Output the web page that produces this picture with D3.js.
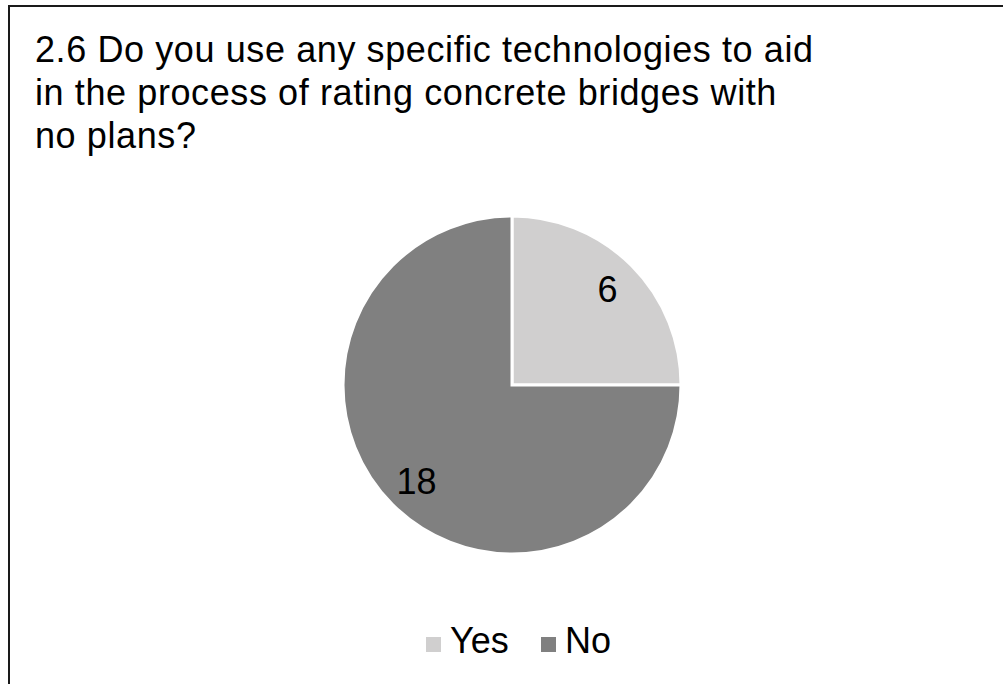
<!DOCTYPE html>
<html>
<head>
<meta charset="utf-8">
<script src="https://cdn.jsdelivr.net/npm/d3@7"></script>
<style>
  html, body { margin: 0; padding: 0; background: #fff; }
  svg { display: block; }
</style>
</head>
<body>
<svg id="chart" width="1003" height="684"></svg>
<script>
// Survey responses
const categories = ["Yes", "No"];
const counts = [6, 18];
const colors = ["#d0cfcf", "#808080"];
const titleLines = [
  "2.6 Do you use any specific technologies to aid",
  "in the process of rating concrete bridges with",
  "no plans?"
];

const svg = d3.select("#chart");
const font = "Arial, 'Liberation Sans', sans-serif";

// Chart frame (extends past the right and bottom edges)
svg.append("rect")
  .attr("x", 9).attr("y", 6)
  .attr("width", 1010).attr("height", 700)
  .attr("fill", "#fff")
  .attr("stroke", "#1a1a1a")
  .attr("stroke-width", 2);

// Title
svg.append("g").selectAll("text")
  .data(titleLines)
  .join("text")
  .attr("x", 35)
  .attr("y", (d, i) => 62 + i * 43)
  .attr("font-family", font)
  .attr("font-size", 36)
  .attr("letter-spacing", 0.6)
  .attr("fill", "#000")
  .text(d => d);

// Pie
const cx = 512, cy = 385, radius = 169;
const pie = d3.pie().sort(null).value(d => d.value);
const data = categories.map((c, i) => ({ name: c, value: counts[i] }));
const arcs = pie(data);
const arc = d3.arc().innerRadius(0).outerRadius(radius);
const labelArc = d3.arc().innerRadius(radius * 0.8).outerRadius(radius * 0.8);
const color = d3.scaleOrdinal().domain(categories).range(colors);

const g = svg.append("g").attr("transform", `translate(${cx},${cy})`);
g.selectAll("path")
  .data(arcs)
  .join("path")
  .attr("d", arc)
  .attr("fill", d => color(d.data.name))
  .attr("stroke", "#fff")
  .attr("stroke-width", 3)
  .attr("stroke-linejoin", "miter");

g.selectAll("text")
  .data(arcs)
  .join("text")
  .attr("transform", d => `translate(${labelArc.centroid(d)})`)
  .attr("text-anchor", "middle")
  .attr("dy", "0.36em")
  .attr("font-family", font)
  .attr("font-size", 36)
  .attr("fill", "#000")
  .text(d => d.data.value);

// Legend
const legend = svg.append("g");
const legendItems = [
  { name: "Yes", x: 426 },
  { name: "No", x: 541 }
];
const li = legend.selectAll("g")
  .data(legendItems)
  .join("g")
  .attr("transform", d => `translate(${d.x},653)`);
li.append("rect")
  .attr("x", 0).attr("y", -16)
  .attr("width", 15).attr("height", 15)
  .attr("fill", d => color(d.name));
li.append("text")
  .attr("x", 24)
  .attr("font-family", font)
  .attr("font-size", 36)
  .attr("fill", "#000")
  .text(d => d.name);
</script>
</body>
</html>
